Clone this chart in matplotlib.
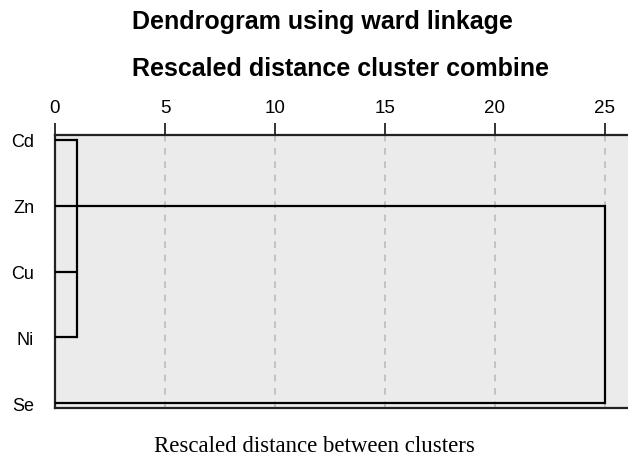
import matplotlib
matplotlib.use("Agg")
import matplotlib.pyplot as plt

labels = ["Cd", "Zn", "Cu", "Ni", "Se"]
# merge distances (rescaled) for each leaf's horizontal branch
branch_end = [1, 25, 1, 1, 25]
# vertical connectors: (x, from_leaf, to_leaf)
conn_x = [1, 25]
conn_from = [0, 1]
conn_to = [3, 4]
xticks = [0, 5, 10, 15, 20, 25]

fig = plt.figure(figsize=(6.28, 4.60), dpi=100)
ax = fig.add_axes([55/628, 1-409/460, 1-55/628, (409-136)/460])
ax.set_facecolor("#ebebeb")

ypos = list(range(len(labels)))
for y, e in zip(ypos, branch_end):
    ax.plot([0, e], [y, y], color="black", lw=1.6, solid_capstyle="butt", zorder=3)
for x, a, b in zip(conn_x, conn_from, conn_to):
    ax.plot([x, x], [ypos[a], ypos[b]], color="black", lw=1.6, zorder=3)

ax.set_xlim(0, 26.05)
ax.set_ylim(4.076, -0.076)
ax.set_xticks(xticks)
ax.set_xticklabels([str(t) for t in xticks])
ax.xaxis.set_ticks_position("top")
ax.xaxis.set_label_position("bottom")
ax.tick_params(axis="x", direction="out", length=8.5, width=1.4, color="#333333",
               labelsize=13.5, pad=5)
for lab in ax.get_xticklabels():
    lab.set_fontfamily("Liberation Sans")
ax.set_yticks(ypos)
ax.set_yticklabels(labels, fontfamily="Liberation Sans", fontsize=13)
ax.tick_params(axis="y", length=0, pad=15)
for t in xticks[1:]:
    ax.axvline(t, color="#bbbbbb", lw=1.2, ls=(0, (4, 4)), zorder=1)

ax.spines["right"].set_visible(False)
for s in ["top", "left", "bottom"]:
    ax.spines[s].set_color("#222222")
    ax.spines[s].set_linewidth(1.6)

fig.text(132/628, 1-22/460, "Dendrogram using ward linkage", ha="left", va="center",
         fontfamily="Liberation Sans", fontweight="bold", fontsize=18)
fig.text(132/628, 1-69/460, "Rescaled distance cluster combine", ha="left", va="center",
         fontfamily="Liberation Sans", fontweight="bold", fontsize=18)
fig.text(0.5, 1-447/460, "Rescaled distance between clusters", ha="center", va="center",
         fontfamily="Liberation Serif", fontsize=16.5)

fig.savefig("out.png", dpi=100)
